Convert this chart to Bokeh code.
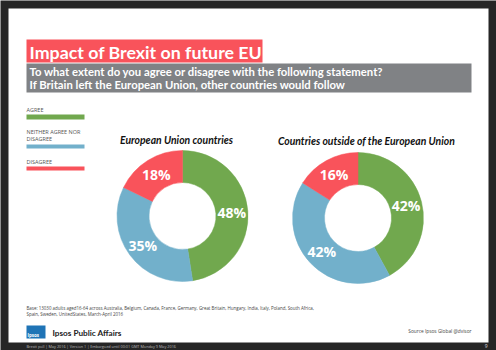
import numpy as np
from bokeh.plotting import figure
from bokeh.models import Range1d
from bokeh.core.properties import value
from bokeh.embed import file_html
from bokeh.resources import INLINE

# ---------------- data ----------------
categories = ["AGREE", "NEITHER AGREE NOR DISAGREE", "DISAGREE"]
eu_values = [48, 35, 18]
non_eu_values = [42, 42, 16]
chart_titles = ["European Union countries", "Countries outside of the European Union"]
colors = ["#71a84e", "#72b0cb", "#f9535b"]

W, H = 496, 350
FONT = "Open Sans"
FONT2 = "Lato"

p = figure(width=W, height=H, x_range=Range1d(0, W), y_range=Range1d(0, H),
           output_backend="svg", toolbar_location=None, min_border=0)
p.axis.visible = False
p.grid.visible = False
p.outline_line_color = None
p.background_fill_color = "#262626"
p.border_fill_color = "#262626"

def Y(y):
    return H - y

def txt(x, y, s, size, color="#000000", style="normal", align="left", baseline="middle", font=FONT):
    p.text(x=[x], y=[Y(y)], text=[s], text_font=value(font), text_font_size=f"{size}px",
           text_color=color, text_font_style=style, text_align=align, text_baseline=baseline)

# slide
p.quad(left=8, right=488, bottom=Y(342), top=Y(8), fill_color="white", line_color=None)

# title box
p.quad(left=26, right=262, bottom=Y(62), top=Y(39), fill_color="#f9535b", line_color=None)
txt(29, 51, "Impact of Brexit on future EU", 17.8, "white", "bold", font=FONT2)
p.quad(left=26, right=471, bottom=Y(92), top=Y(63), fill_color="#808285", line_color=None)
txt(29, 71, "To what extent do you agree or disagree with the following statement?", 11.3, "white", "bold", font=FONT2)
txt(29, 84, "If Britain left the European Union, other countries would follow", 11.3, "white", "bold", font=FONT2)

# legend
leg_y = [(109, 114, 119), (131, 144, 148), (161, 166, 170)]
leg_lines = [["AGREE"], ["NEITHER AGREE NOR", "DISAGREE"], ["DISAGREE"]]
for (ty, b0, b1), lines, c in zip(leg_y, leg_lines, colors):
    for k, ln in enumerate(lines):
        txt(26, ty + 7 * k, ln, 5.5, "#555555")
    p.quad(left=26, right=84, bottom=Y(b1), top=Y(b0), fill_color=c, line_color=None)

# donuts
centers = [(182, 215.5), (357.5, 217.5)]
title_pos = [(176, 139), (366, 140)]
r_out, r_in = 65.5, 33.5
for vals, (cx, cy), ttl, (tx, ty) in zip([eu_values, non_eu_values], centers, chart_titles, title_pos):
    v = np.array(vals, dtype=float)
    frac = v / v.sum()
    cum = np.concatenate([[0], np.cumsum(frac)])
    starts = np.pi / 2 - 2 * np.pi * cum[:-1]
    ends = np.pi / 2 - 2 * np.pi * cum[1:]
    p.annular_wedge(x=cx, y=Y(cy), inner_radius=r_in, outer_radius=r_out,
                    start_angle=starts, end_angle=ends, direction="clock",
                    fill_color=colors, line_color=colors, line_width=0.5)
    mids = (starts + ends) / 2
    rm = (r_in + r_out) / 2
    lx = cx + rm * np.cos(mids)
    ly = Y(cy) + rm * np.sin(mids)
    p.text(x=lx, y=ly, text=[f"{int(x)}%" for x in vals], text_font=value(FONT),
           text_font_size="14px", text_color="white", text_font_style="bold",
           text_align="center", text_baseline="middle")
    txt(tx, ty, ttl, 10.4, "#111111", "bold italic", "center", font=FONT2)

# footer
txt(26, 307, "Base: 13030 adults aged16-64 across  Australia, Belgium,  Canada, France, Germany, Great Britain, Hungary, India, Italy, Poland, South Africa,", 4.45, "#444444")
txt(26, 313.5, "Spain, Sweden, UnitedStates, March-April 2016", 4.45, "#444444")
p.quad(left=26, right=45, bottom=Y(338), top=Y(325), fill_color="#1f74b6", line_color=None)
txt(27, 334, "Ipsos", 4.5, "white", "bold")
txt(52, 332, "Ipsos Public Affairs", 8.2, "#222222", "bold", font=FONT2)
txt(471, 330, "Source Ipsos Global @dvisor", 4.8, "#444444", align="right")
txt(26, 345.5, "Brexit poll  |  May 2016 |  Version 1  |  Embargoed until 00:01 GMT Monday  9 May 2016", 3.8, "#bbbbbb")
txt(487, 345.5, "9", 5, "#dddddd", align="right")

open("out.html", "w").write(file_html(p, INLINE))
